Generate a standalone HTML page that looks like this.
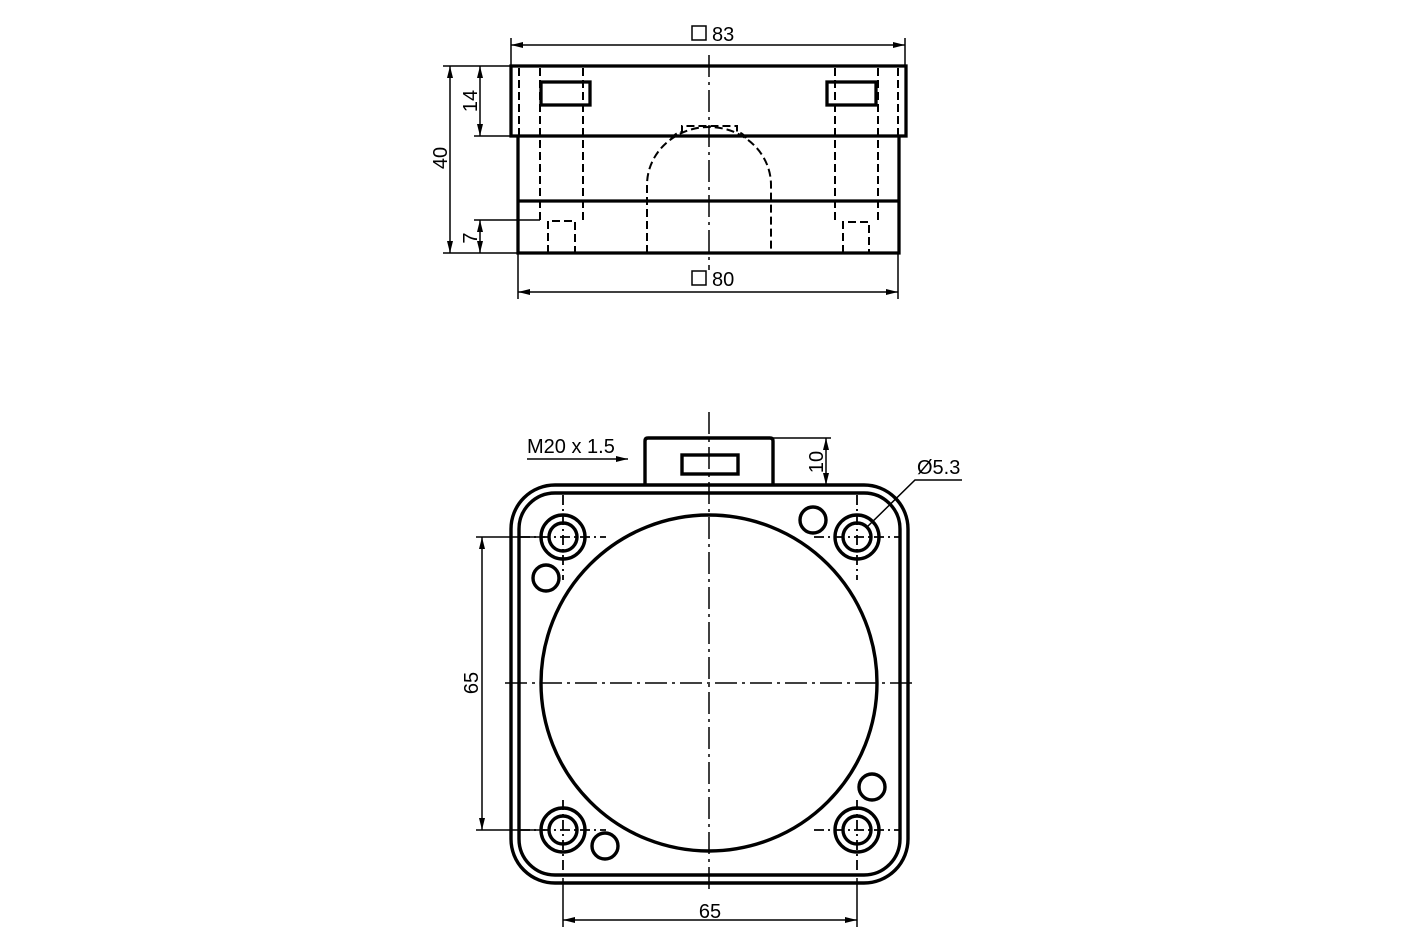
<!DOCTYPE html>
<html><head><style>body{margin:0;background:#fff}svg{display:block}</style></head><body>
<svg width="1417" height="945" viewBox="0 0 1417 945" xmlns="http://www.w3.org/2000/svg" font-family="Liberation Sans, sans-serif" fill="none" stroke="#000">
<defs>
<marker id="a" viewBox="0 0 12 6" refX="12" refY="3" markerWidth="12" markerHeight="6" orient="auto-start-reverse" markerUnits="userSpaceOnUse"><path d="M0,0L12,3L0,6z" fill="#000" stroke="none"/></marker>
</defs>
<!-- TOP VIEW -->
<g stroke-width="1.5">
<line x1="511" y1="38" x2="511" y2="66"/><line x1="905" y1="38" x2="905" y2="66"/>
<line x1="511" y1="45" x2="905" y2="45" marker-start="url(#a)" marker-end="url(#a)"/>
<line x1="518" y1="253" x2="518" y2="299"/><line x1="898" y1="253" x2="898" y2="299"/>
<line x1="518" y1="292" x2="898" y2="292" marker-start="url(#a)" marker-end="url(#a)"/>
<line x1="443" y1="66" x2="511" y2="66"/><line x1="443" y1="253" x2="518" y2="253"/>
<line x1="450" y1="66" x2="450" y2="253" marker-start="url(#a)" marker-end="url(#a)"/>
<line x1="474" y1="136" x2="511" y2="136"/>
<line x1="480" y1="66" x2="480" y2="136" marker-start="url(#a)" marker-end="url(#a)"/>
<line x1="474" y1="220" x2="540" y2="220"/>
<line x1="480" y1="220" x2="480" y2="253" marker-start="url(#a)" marker-end="url(#a)"/>
<line x1="709" y1="55" x2="709" y2="270" stroke-dasharray="22,5,3,5"/>
</g>
<rect x="692" y="26" width="14" height="14" stroke-width="1.5"/>
<rect x="692" y="271" width="14" height="14" stroke-width="1.5"/>
<g fill="#000" stroke="none" font-size="20">
<text x="712" y="41">83</text><text x="712" y="286">80</text>
<text transform="translate(447,158) rotate(-90)" text-anchor="middle">40</text>
<text transform="translate(477,101) rotate(-90)" text-anchor="middle">14</text>
<text transform="translate(477,238) rotate(-90)" text-anchor="middle">7</text>
</g>
<g stroke-width="3.3">
<rect x="511" y="66" width="395" height="70"/>
<path d="M518,136V253H899V136"/>
<line x1="518" y1="201" x2="899" y2="201"/>
<rect x="541" y="82" width="49" height="23"/>
<rect x="827" y="82" width="49" height="23"/>
</g>
<g stroke-width="2" stroke-dasharray="8,4">
<line x1="519" y1="68" x2="519" y2="136"/>
<line x1="540" y1="68" x2="540" y2="220"/>
<line x1="583" y1="68" x2="583" y2="222"/>
<line x1="835" y1="68" x2="835" y2="222"/>
<line x1="878" y1="68" x2="878" y2="222"/>
<line x1="898" y1="68" x2="898" y2="136"/>
<path d="M548,253V221H575V253"/>
<path d="M843,253V222H869V253"/>
<path d="M647,253V185A62,58 0 0 1 771,185V253"/>
<path d="M671,139Q676,132 682,132V126H737V132Q742,132 747,139"/>
</g>
<!-- BOTTOM VIEW -->
<g stroke-width="1.5">
<line x1="709" y1="412" x2="709" y2="892" stroke-dasharray="22,5,3,5"/>
<line x1="505" y1="683" x2="916" y2="683" stroke-dasharray="22,5,3,5"/>
<line x1="476" y1="537" x2="545" y2="537"/><line x1="476" y1="830" x2="545" y2="830"/>
<line x1="482" y1="537" x2="482" y2="830" marker-start="url(#a)" marker-end="url(#a)"/>
<line x1="563" y1="878" x2="563" y2="927"/><line x1="857" y1="878" x2="857" y2="927"/>
<line x1="563" y1="920" x2="857" y2="920" marker-start="url(#a)" marker-end="url(#a)"/>
<line x1="773" y1="438" x2="831" y2="438"/>
<line x1="826" y1="438" x2="826" y2="485" marker-start="url(#a)" marker-end="url(#a)"/>
<line x1="527" y1="459" x2="628" y2="459" marker-end="url(#a)"/>
<path d="M962,480H915L866,528"/>
</g>
<g stroke-width="1.8" stroke-dasharray="10,4,2,4">
<line x1="563" y1="495" x2="563" y2="580"/><line x1="857" y1="495" x2="857" y2="580"/>
<line x1="563" y1="800" x2="563" y2="880"/><line x1="857" y1="800" x2="857" y2="880"/>
<line x1="520" y1="537" x2="606" y2="537"/><line x1="814" y1="537" x2="900" y2="537"/>
<line x1="520" y1="830" x2="606" y2="830"/><line x1="814" y1="830" x2="900" y2="830"/>
</g>
<g fill="#000" stroke="none" font-size="20">
<text x="527" y="453">M20 x 1.5</text>
<text x="917" y="474">Ø5.3</text>
<text transform="translate(823,462) rotate(-90)" text-anchor="middle">10</text>
<text transform="translate(478,683) rotate(-90)" text-anchor="middle">65</text>
<text x="710" y="918" text-anchor="middle">65</text>
</g>
<g stroke-width="3.4">
<rect x="511" y="485" width="397" height="398" rx="44"/>
<rect x="519" y="493" width="381" height="382" rx="36"/>
<path d="M645,485V441Q645,438 648,438H770Q773,438 773,441V485"/>
<rect x="682" y="455" width="56" height="19"/>
<circle cx="709" cy="683" r="168"/>
<circle cx="563" cy="537" r="22"/><circle cx="563" cy="537" r="14"/>
<circle cx="857" cy="537" r="22"/><circle cx="857" cy="537" r="14"/>
<circle cx="563" cy="830" r="22"/><circle cx="563" cy="830" r="14"/>
<circle cx="857" cy="830" r="22"/><circle cx="857" cy="830" r="14"/>
<circle cx="813" cy="520" r="13"/><circle cx="546" cy="578" r="13"/>
<circle cx="872" cy="787" r="13"/><circle cx="605" cy="846" r="13"/>
</g>
</svg>
</body></html>
